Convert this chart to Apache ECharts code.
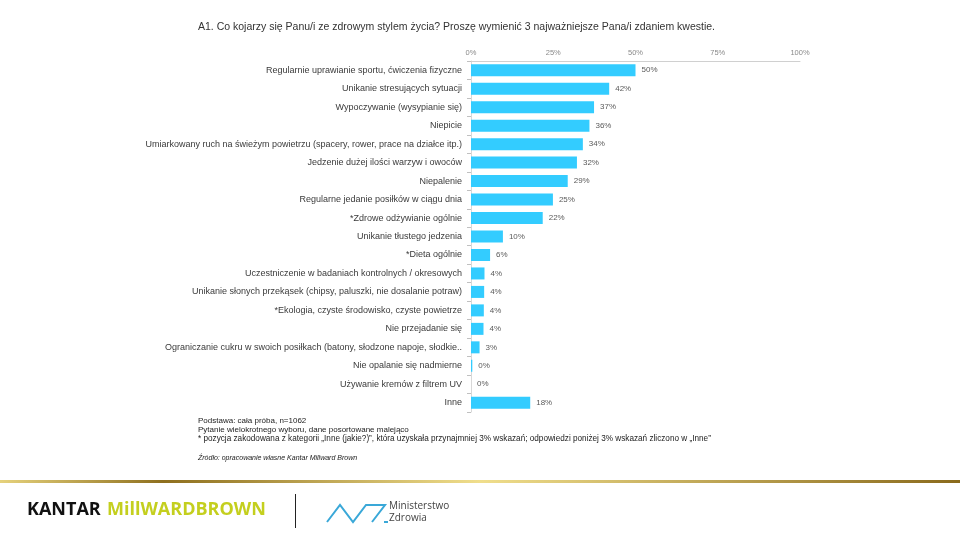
<!DOCTYPE html>
<html><head><meta charset="utf-8">
<script src="https://cdn.jsdelivr.net/npm/echarts@6/dist/echarts.min.js"></script>
<style>html,body{margin:0;padding:0;background:#fff}#c{width:960px;height:540px}</style>
</head><body><div id="c"></div>
<script>
const categories = [
  "Regularnie uprawianie sportu, ćwiczenia fizyczne",
  "Unikanie stresujących sytuacji",
  "Wypoczywanie (wysypianie się)",
  "Niepicie",
  "Umiarkowany ruch na świeżym powietrzu (spacery, rower, prace na działce itp.)",
  "Jedzenie dużej ilości warzyw i owoców",
  "Niepalenie",
  "Regularne jedanie posiłków w ciągu dnia",
  "*Zdrowe odżywianie ogólnie",
  "Unikanie tłustego jedzenia",
  "*Dieta ogólnie",
  "Uczestniczenie w badaniach kontrolnych / okresowych",
  "Unikanie słonych przekąsek (chipsy, paluszki, nie dosalanie potraw)",
  "*Ekologia, czyste środowisko, czyste powietrze",
  "Nie przejadanie się",
  "Ograniczanie cukru w swoich posiłkach (batony, słodzone napoje, słodkie..",
  "Nie opalanie się nadmierne",
  "Używanie kremów z filtrem UV",
  "Inne"
];
const values = [50, 42, 37.4, 36, 34, 32.2, 29.4, 24.9, 21.8, 9.7, 5.8, 4.1, 4, 3.9, 3.8, 2.6, 0.4, 0, 18];
const tickLabels = ["0%", "25%", "50%", "75%", "100%"];
const title = "A1. Co kojarzy się Panu/i ze zdrowym stylem życia? Proszę wymienić 3 najważniejsze Pana/i zdaniem kwestie.";
const notes = [
  "Podstawa: cała próba, n=1062",
  "Pytanie wielokrotnego wyboru, dane posortowane malejąco",
  "* pozycja zakodowana z kategorii „Inne (jakie?)”, która uzyskała przynajmniej 3% wskazań; odpowiedzi poniżej 3% wskazań zliczono w „Inne”"
];
const source = "Źródło: opracowanie własne Kantar Millward Brown";

const chart = echarts.init(document.getElementById('c'), null, {renderer: 'canvas'});
const FF = '"Liberation Sans", Arial, sans-serif';
chart.setOption({
  animation: false,
  textStyle: {fontFamily: FF},
  title: {
    text: title, left: 193, top: 17,
    textStyle: {fontSize: 10.5, fontWeight: 'normal', color: '#333', fontFamily: FF}
  },
  grid: {left: 471, right: 160, top: 61, bottom: 128},
  xAxis: {
    type: 'value', position: 'top', min: 0, max: 100, interval: 25,
    axisLine: {show: true, lineStyle: {color: '#d0d0d0'}},
    axisTick: {show: false},
    splitLine: {show: false},
    axisLabel: {
      color: '#8a8a8a', fontSize: 7.5, margin: 4,
      formatter: v => tickLabels[Math.round(v / 25)]
    }
  },
  yAxis: {
    type: 'category', data: categories, inverse: true,
    axisLine: {show: true, lineStyle: {color: '#d8d8d8'}},
    axisTick: {show: true, length: 4, lineStyle: {color: '#c0c0c0'}},
    axisLabel: {color: '#3a3a3a', fontSize: 9, margin: 9}
  },
  series: [{
    type: 'bar', data: values, barWidth: 12,
    itemStyle: {color: '#33ccff'},
    label: {
      show: true, position: 'right', distance: 6, fontSize: 8, color: '#5a5a5a',
      formatter: p => Math.round(p.value) + '%'
    }
  }],
  graphic: [
    {type: 'text', left: 198, top: 417, style: {text: notes[0], fill: '#222', font: '8px ' + FF}},
    {type: 'text', left: 198, top: 426, style: {text: notes[1], fill: '#222', font: '8px ' + FF}},
    {type: 'text', left: 198, top: 435, style: {text: notes[2], fill: '#222', font: '8.2px ' + FF}},
    {type: 'text', left: 198, top: 455, style: {text: source, fill: '#222', font: 'italic 7px ' + FF}},
    {type: 'rect', shape: {x: 0, y: 480, width: 960, height: 3},
      style: {fill: new echarts.graphic.LinearGradient(0, 0, 1, 0, [
        {offset: 0, color: '#e6d27c'}, {offset: 0.17, color: '#8e6f1e'},
        {offset: 0.5, color: '#f0de8c'}, {offset: 1, color: '#8a6a1c'}])}},
    {type: 'text', left: 27, top: 501, style: {text: 'KANTAR', font: 'bold 18px "Open Sans", ' + FF, fill: '#111'}},
    {type: 'text', left: 107, top: 501, style: {text: 'MillWARDBROWN', font: 'bold 18px "Open Sans", ' + FF, fill: '#c4cf1e'}},
    {type: 'line', shape: {x1: 295.5, y1: 494, x2: 295.5, y2: 528}, style: {stroke: '#222', lineWidth: 1}},
    {type: 'polyline', shape: {points: [[327, 522], [340, 505], [353, 522], [366, 505], [385, 505], [372, 522]]},
      style: {stroke: '#3aa8d8', lineWidth: 2, fill: null}},
    {type: 'line', shape: {x1: 384, y1: 522, x2: 388, y2: 522}, style: {stroke: '#3aa8d8', lineWidth: 2}},
    {type: 'text', left: 389, top: 501, style: {text: 'Ministerstwo', font: '10px "Open Sans", ' + FF, fill: '#444'}},
    {type: 'text', left: 389, top: 513, style: {text: 'Zdrowia', font: '10px "Open Sans", ' + FF, fill: '#444'}}
  ]
});
</script></body></html>
